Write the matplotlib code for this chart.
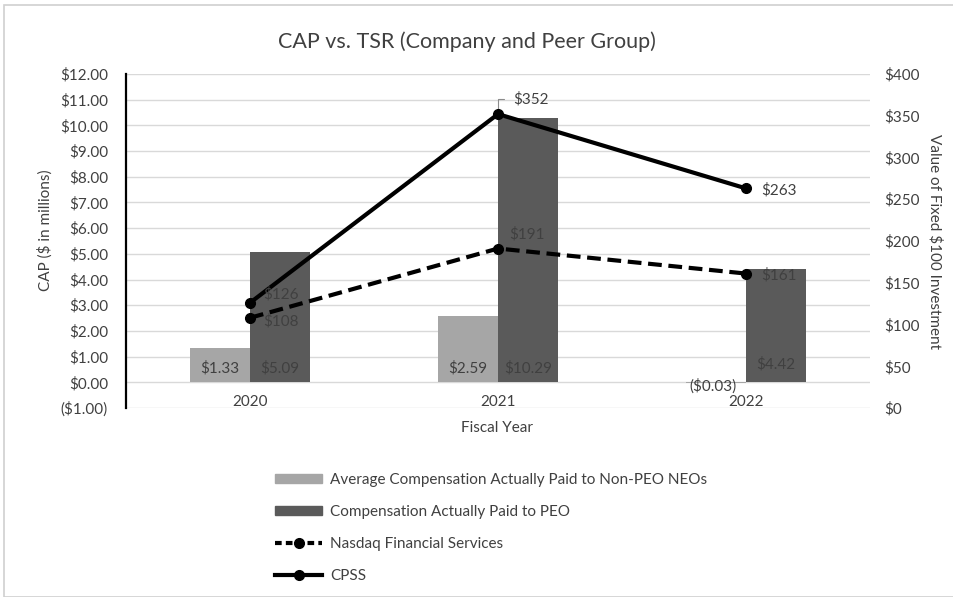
import numpy as np
import matplotlib
matplotlib.use("Agg")
import matplotlib.pyplot as plt
from matplotlib.patches import Rectangle, Patch
from matplotlib.lines import Line2D

plt.rcParams['font.family'] = ['Lato', 'DejaVu Sans']

# data
years = ['2020', '2021', '2022']
neo_cap = [1.33, 2.59, -0.03]      # $ millions
peo_cap = [5.09, 10.29, 4.42]      # $ millions
nasdaq = [108, 191, 161]           # value of $100
cpss = [126, 352, 263]

neo_lbl = ['$1.33', '$2.59', '($0.03)']
peo_lbl = ['$5.09', '$10.29', '$4.42']

left_ticks = np.arange(-1, 13, 1)
right_ticks = np.arange(0, 401, 50)

W, H = 954, 597
FS = 11
fig = plt.figure(figsize=(W / 100, H / 100), dpi=100)

# chart border
fig.patches.append(Rectangle((4 / W, 0), 1.2, 1 - 5 / H, transform=fig.transFigure,
                             fill=False, edgecolor='#d0d0d0', linewidth=1.2))

ax = fig.add_axes([126 / W, 1 - 408 / H, (870 - 126) / W, (408 - 74) / H])
ax2 = ax.twinx()

txt = '#404040'
light = '#a6a6a6'
dark = '#5a5a5a'
x = np.arange(len(years))
bw = 0.24

ax.bar(x - bw / 2, neo_cap, bw, color=light, zorder=2)
ax.bar(x + bw / 2, peo_cap, bw, color=dark, zorder=2)

ax.set_xlim(-0.5, 2.5)
ax.set_ylim(-1, 12)
ax.set_yticks(left_ticks)
ax.set_yticklabels([f'${v:.2f}' if v >= 0 else f'(${-v:.2f})' for v in left_ticks])
ax.grid(axis='y', color='#d9d9d9', linewidth=1.0, zorder=0)
ax.set_axisbelow(True)
ax.set_xticks(x)
ax.set_xticklabels(years)
ax.tick_params(axis='x', length=0, pad=-9, labelsize=FS, labelcolor=txt)
ax.tick_params(axis='y', length=0, pad=13, labelsize=FS, labelcolor=txt)
for s in ['top', 'right', 'bottom']:
    ax.spines[s].set_visible(False)
ax.spines['left'].set_linewidth(1.6)
ax.spines['left'].set_color('black')

# bar labels
for i in range(len(years)):
    if neo_cap[i] >= 0:
        ax.annotate(neo_lbl[i], (x[i] - bw / 2, 0), xytext=(0, 14), textcoords='offset pixels',
                    ha='center', va='center', fontsize=FS, color=txt, zorder=5)
    else:
        ax.annotate(neo_lbl[i], (x[i] - bw / 2, 0), xytext=(-3, -4), textcoords='offset pixels',
                    ha='center', va='center', fontsize=FS, color=txt, zorder=5)
    dy = 14 if i < 2 else 18
    ax.annotate(peo_lbl[i], (x[i] + bw / 2, 0), xytext=(0, dy), textcoords='offset pixels',
                ha='center', va='center', fontsize=FS, color=txt, zorder=5)

# lines on secondary axis
ax2.plot(x, cpss, color='black', linewidth=3, marker='o', markersize=7, zorder=4,
         solid_capstyle='round')
ax2.plot(x, nasdaq, color='black', linewidth=3, marker='o', markersize=7, zorder=4,
         dashes=(3.3, 1.6))
ax2.set_ylim(0, 400)
ax2.set_yticks(right_ticks)
ax2.set_yticklabels([f'${v}' for v in right_ticks])
ax2.tick_params(axis='y', length=0, pad=10, labelsize=FS, labelcolor=txt)
for s in ax2.spines.values():
    s.set_visible(False)

offs_cpss = [(13, 9), (15, 15), (15, -2)]
offs_nas = [(13, -3), (11, 14), (15, -2)]
for i in range(len(years)):
    ax2.annotate(f'${cpss[i]}', (x[i], cpss[i]), xytext=offs_cpss[i], textcoords='offset pixels',
                 ha='left', va='center', fontsize=FS, color=txt, zorder=6)
    ax2.annotate(f'${nasdaq[i]}', (x[i], nasdaq[i]), xytext=offs_nas[i], textcoords='offset pixels',
                 ha='left', va='center', fontsize=FS, color=txt, zorder=6)
# leader line for the 2021 CPSS label
ax2.annotate('', (x[1], cpss[1]), xytext=(6, 15), textcoords='offset pixels',
             arrowprops=dict(arrowstyle='-', color='#8c8c8c', linewidth=0.8,
                             connectionstyle='angle,angleA=0,angleB=90,rad=0',
                             shrinkA=0, shrinkB=4))

# titles and axis labels
fig.text(467 / W, 1 - 42 / H, 'CAP vs. TSR (Company and Peer Group)', ha='center', va='center',
         fontsize=15.5, color=txt)
fig.text(497 / W, 1 - 428 / H, 'Fiscal Year', ha='center', va='center', fontsize=FS, color=txt)
fig.text(45 / W, 1 - 230 / H, 'CAP ($ in millions)', ha='center', va='center', rotation=90,
         fontsize=FS, color=txt)
fig.text(935 / W, 1 - 241 / H, 'Value of Fixed $100 Investment', ha='center', va='center',
         rotation=270, fontsize=FS, color=txt)

# legend
handles = [
    Patch(color=light),
    Patch(color=dark),
    Line2D([], [], color='black', linewidth=3, marker='o', markersize=7, dashes=(1.6, 1.0)),
    Line2D([], [], color='black', linewidth=3, marker='o', markersize=7),
]
labels = ['Average Compensation Actually Paid to Non-PEO NEOs',
          'Compensation Actually Paid to PEO',
          'Nasdaq Financial Services', 'CPSS']
leg = fig.legend(handles, labels, loc='upper left', bbox_to_anchor=(275 / W, 1 - 473 / H),
                 frameon=False, fontsize=FS, borderaxespad=0, borderpad=0,
                 handlelength=3.1, handleheight=0.5, handletextpad=0.5, labelspacing=1.17)
for t in leg.get_texts():
    t.set_color(txt)

fig.savefig('out.png', dpi=100)
